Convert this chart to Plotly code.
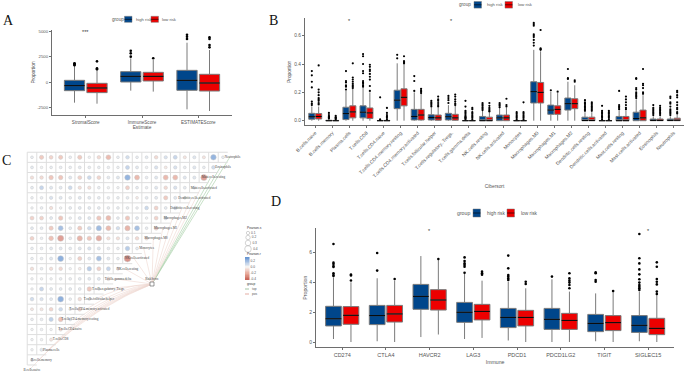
import numpy as np
import plotly.graph_objects as go

W, H = 685, 373
BLUE, RED = "#00468B", "#ED0000"
TXT = "#555555"
SANS, SERIF = "Liberation Sans", "Liberation Serif"

# ---------- Panel A ----------
a_cats = ["StromalScore", "ImmuneScore", "ESTIMATEScore"]
a_high_q1 = [-855, 0, -820]
a_high_med = [-360, 560, 165]
a_high_q3 = [165, 1020, 1150]
a_high_lo = [-2040, -855, -2700]
a_high_hi = [1580, 2340, 3880]
a_high_out = [[1650, 1750, 1800, 1850], [2500, 2830, 3090], [4240, 4470, 4670]]
a_low_q1 = [-1050, 100, -890]
a_low_med = [-590, 560, -100]
a_low_q3 = [-130, 955, 760]
a_low_lo = [-2140, -950, -2860]
a_low_hi = [1120, 2170, 3160]
a_low_out = [[1250, 1350, 2040], [2340], [3420, 3650, 4240, 4410]]
a_ticks = [-2500, 0, 2500, 5000]

# ---------- Panel B ----------
b_cats = ["B.cells.naive", "B.cells.memory", "Plasma.cells", "T.cells.CD8", "T.cells.CD4.naive",
          "T.cells.CD4.memory.resting", "T.cells.CD4.memory.activated", "T.cells.follicular.helper",
          "T.cells.regulatory..Tregs.", "T.cells.gamma.delta", "NK.cells.resting", "NK.cells.activated",
          "Monocytes", "Macrophages.M0", "Macrophages.M1", "Macrophages.M2", "Dendritic.cells.resting",
          "Dendritic.cells.activated", "Mast.cells.resting", "Mast.cells.activated", "Eosinophils", "Neutrophils"]
b_high_q1 = [.01, 0, .008, .02, 0, .085, .005, .005, .005, 0, 0, 0, 0, .125, .045, .075, 0, 0, 0, 0, 0, 0]
b_high_med = [.028, 0, .05, .06, 0, .145, .03, .022, .028, 0, 0, .02, 0, .205, .075, .12, .001, 0, 0, .015, .002, .002]
b_high_q3 = [.052, .003, .095, .105, .001, .215, .08, .042, .052, .001, .03, .04, .001, .275, .11, .16, .025, .001, .03, .06, .012, .012]
b_high_lo = [0] * 22
b_high_hi = [.1, .008, .21, .235, .002, .405, .2, .09, .11, .002, .07, .09, .002, .5, .205, .275, .06, .002, .07, .15, .03, .03]
b_high_out = [[.35, .32, .275, .235, .135, .12, .11], [.055, .04, .03, .025, .02, .015],
              [.35, .28, .27, .25, .24, .22], [.47, .455, .4, .35, .335, .28, .27, .26, .25, .24],
              [.165, .01, .005], [.465, .44], [.315, .28, .21], [.14, .13, .12, .11, .1],
              [.175, .16, .145, .125], [.14, .1, .07, .06, .05, .04, .03, .025, .02, .015, .01],
              [.125, .115, .105, .095, .085, .075], [.125, .115, .105, .095], [.06, .05, .04, .03, .02, .01],
              [.69, .68, .67, .61, .6, .59, .57, .55, .53], [.215], [.365, .3, .295],
              [.145, .13, .12, .11, .1, .09, .08, .07], [.105, .07, .06, .05, .04, .03, .02, .01],
              [.21, .11, .1, .09, .08], [.3, .295, .23, .22, .2, .19, .18, .17, .16],
              [.11, .09, .08, .07, .06, .05, .04], [.17, .16, .13, .12, .1, .08, .07, .06, .05, .04]]
b_low_q1 = [.012, 0, .02, .015, 0, .105, .005, .003, .003, 0, 0, 0, 0, .125, .045, .085, 0, 0, 0, 0, 0, 0]
b_low_med = [.03, 0, .062, .055, 0, .165, .04, .02, .02, 0, 0, .02, 0, .2, .08, .12, .001, 0, 0, .02, .002, .003]
b_low_q3 = [.05, .002, .105, .09, .002, .225, .08, .04, .045, .001, .025, .04, .001, .27, .105, .155, .025, .001, .03, .075, .012, .018]
b_low_lo = [0] * 22
b_low_hi = [.1, .006, .225, .2, .004, .4, .19, .09, .105, .002, .06, .09, .002, .49, .195, .25, .06, .002, .07, .18, .03, .04]
b_low_out = [[.39, .22, .2, .18, .16, .15, .14, .125, .115], [.035, .025, .02, .015, .01],
             [.405, .305, .29, .275, .26, .25, .24, .23], [.395, .38, .36, .35, .33, .31, .29, .245, .21],
             [.09, .055, .04, .03, .02, .01], [.455, .42, .41, .405], [.225, .215, .205, .195],
             [.17, .15, .14, .125, .11, .1], [.185, .17, .15, .135, .12, .11],
             [.09, .08, .06, .05, .04, .03, .02, .01], [.125, .105, .09, .08, .07, .065], [.155, .11, .1],
             [.13, .06, .05, .04, .03, .02, .01], [.64, .51, .505, .5], [.205], [.285, .275],
             [.13, .12, .11, .1, .09, .08, .07], [.07, .06, .05, .04, .03, .02, .01],
             [.17, .15, .13, .11, .09, .08], [.365, .26, .25, .23, .2, .19],
             [.105, .09, .08, .07, .06, .05, .04], [.21, .2, .18, .165, .13, .11, .09, .08, .06, .05]]
b_ticks = [0, .2, .4, .6]
b_tick_labels = ["0.0", "0.2", "0.4", "0.6"]
b_star_cats = [3, 9]

# ---------- Panel D ----------
d_cats = ["CD274", "CTLA4", "HAVCR2", "LAG3", "PDCD1", "PDCD1LG2", "TIGIT", "SIGLEC15"]
d_high_q1 = [1.07, 1.16, 2.18, 1.31, .96, .84, .69, .64]
d_high_med = [1.55, 1.76, 3.04, 1.98, 1.64, 1.51, 1.24, 1.11]
d_high_q3 = [2.38, 2.44, 3.84, 2.64, 2.24, 2.24, 1.84, 1.76]
d_high_lo = [.2, .05, .33, .2, .1, 0, .05, .05]
d_high_hi = [4.3, 4.25, 5.73, 4.58, 4.02, 4.18, 3.24, 3.36]
d_high_out = [[6.53, 5.29, 5.2, 5.07, 5.0, 4.58, 4.47, 4.4], [5.93, 4.76], [],
              [5.64, 5.4, 5.24, 5.13, 5.02, 4.62], [5.76, 4.91, 4.47, 4.36, 4.24, 4.13], [4.36],
              [4.64, 4.58, 4.13, 4.02], [7.2, 5.58, 5.24, 4.84, 4.51, 4.18, 3.96, 3.8, 3.69, 3.58, 3.47]]
d_low_q1 = [1.18, 1.33, 2.13, 1.47, 1.07, .84, .76, .49]
d_low_med = [1.78, 1.87, 2.8, 2.04, 1.64, 1.44, 1.29, .91]
d_low_q3 = [2.36, 2.44, 3.49, 2.51, 2.11, 1.91, 1.76, 1.58]
d_low_lo = [0, 0, .5, .27, 0, 0, 0, 0]
d_low_hi = [3.98, 4.1, 5.47, 4.09, 3.58, 3.36, 3.36, 3.13]
d_low_out = [[4.5, 4.44, 4.1], [4.2], [5.53], [4.69, 4.58, 4.49], [4.02, 3.87],
             [4.58, 4.24, 4.09, 3.96, 3.8, 3.58], [3.4], [5.31, 5.02, 4.2, 4.02, 3.84, 3.36, 3.2]]
d_ticks = [0, 2, 4, 6]
d_star_cats = [3, 8]

# ---------- Panel C ----------
c_labels = ["Neutrophils", "Eosinophils", "Mast.cells.resting", "Mast.cells.activated",
            "Dendritic.cells.activated", "Dendritic.cells.resting", "Macrophages.M2", "Macrophages.M1",
            "Macrophages.M0", "Monocytes", "NK.cells.activated", "NK.cells.resting", "T.cells.gamma.delta",
            "T.cells.regulatory..Tregs.", "T.cells.follicular.helper", "T.cells.CD4.memory.activated",
            "T.cells.CD4.memory.resting", "T.cells.CD4.naive", "T.cells.CD8", "Plasma.cells",
            "B.cells.memory", "B.cells.naive"]
c_r = [
    [.05, -.18, -.14, -.18, .05, -.18, .03, -.12, -.24, .05, .12, .05, .06, -.12, .1, .15, -.08, .08, -.08, .3, .05],
    [.06, .03, .05, .05, .05, .06, .05, .05, .04, .04, .16, .07, .03, .1, -.06, .1, .05, .08, .05, .13],
    [-.1, -.12, -.2, -.2, .08, -.15, .14, -.14, .06, .08, .3, -.25, .05, .08, -.25, -.25, .08, .08, -.35],
    [.06, .16, .08, .07, .14, -.1, -.1, .05, .03, .03, -.16, .06, .04, .08, -.12, .1, .06, .06],
    [.04, .05, .1, .08, .05, .08, .07, .06, .05, .05, .06, -.05, .06, .07, -.18, .08, .06],
    [.03, .05, -.1, .03, .06, .07, .07, .06, .05, .05, .05, .04, .14, -.15, .06, .12],
    [-.15, -.15, .07, -.2, .04, .08, .08, -.2, -.25, .06, -.2, .07, .03, -.15, .12],
    [.06, .06, -.18, .25, .06, -.18, .13, .27, -.25, .12, -.27, .25, .05, -.16],
    [-.15, .04, -.22, -.35, .06, -.27, -.2, -.3, -.1, -.1, .08, -.12, -.12],
    [.05, .05, .07, .07, .06, .08, .1, .08, .05, .05, .2, .06],
    [.05, .05, .08, .33, .03, -.16, .07, .25, .07, .05, -.4],
    [-.1, .05, -.1, -.13, .03, -.05, .2, -.16, .16, -.08],
    [.03, .03, .03, .05, .05, .06, .07, .08, -.12],
    [.03, .16, .06, .06, .06, .06, -.2, .05],
    [.13, .1, .07, .33, .05, -.12, .05],
    [-.07, -.08, -.14, .14, .04, -.15],
    [.05, .05, .18, -.22, .08],
    [.03, .04, .03, -.1],
    [.03, .03, -.08],
    [.03, .08],
    [.08],
]
c_link_top = [1, 1, 1, 0, 0, 0, 0, 0, 0, 0, 0, 0, 0, 0, 0, 0, 0, 0, 0, 0, 0, 0]
c_legend_sizes = [.1, .2, .3, .4]
c_legend_labels = ["0.1", "0.2", "0.3", "0.4"]
c_bar_ticks = [.2, 0, -.2, -.4]
c_bar_labels = ["0.2", "0.0", "-0.2", "-0.4"]

C_SCALE = [[0, "#c2564a"], [.29, "#e8a898"], [.58, "#f7f5f3"], [.8, "#a9c2e3"], [1, "#5f8fcf"]]
C_MIN, C_MAX = -.44, .32


def xdom(a, b):
    return [a / W, b / W]


def ydom(top, bot):
    return [1 - bot / H, 1 - top / H]


fig = go.Figure()
GREY = "#7a7a7a"


def boxes(xa, ya, cats, q1, med, q3, lo, hi, out, color, off, msize=2.6):
    xs = [i + 1 + off for i in range(len(cats))]
    fig.add_trace(go.Box(x=xs, q1=q1, median=med, q3=q3, lowerfence=lo, upperfence=hi,
                         width=.36, boxpoints=False, whiskerwidth=0, fillcolor=color,
                         line=dict(color=GREY, width=1), xaxis=xa, yaxis=ya, showlegend=False,
                         hoverinfo="skip"))
    mx, my = [], []
    for x, m in zip(xs, med):
        mx += [x - .18, x + .18, None]
        my += [m, m, None]
    fig.add_trace(go.Scatter(x=mx, y=my, mode="lines", line=dict(color="black", width=1),
                             xaxis=xa, yaxis=ya, showlegend=False, hoverinfo="skip"))
    ox, oy = [], []
    for x, o in zip(xs, out):
        ox += [x] * len(o)
        oy += list(o)
    fig.add_trace(go.Scatter(x=ox, y=oy, mode="markers", marker=dict(color="black", size=msize),
                             xaxis=xa, yaxis=ya, showlegend=False, hoverinfo="skip"))


boxes("x", "y", a_cats, a_high_q1, a_high_med, a_high_q3, a_high_lo, a_high_hi, a_high_out, BLUE, -.2)
boxes("x", "y", a_cats, a_low_q1, a_low_med, a_low_q3, a_low_lo, a_low_hi, a_low_out, RED, .2)
boxes("x2", "y2", b_cats, b_high_q1, b_high_med, b_high_q3, b_high_lo, b_high_hi, b_high_out, BLUE, -.2, 2.2)
boxes("x2", "y2", b_cats, b_low_q1, b_low_med, b_low_q3, b_low_lo, b_low_hi, b_low_out, RED, .2, 2.2)
boxes("x4", "y4", d_cats, d_high_q1, d_high_med, d_high_q3, d_high_lo, d_high_hi, d_high_out, BLUE, -.2)
boxes("x4", "y4", d_cats, d_low_q1, d_low_med, d_low_q3, d_low_lo, d_low_hi, d_low_out, RED, .2)


def axis_common(size):
    return dict(showgrid=False, zeroline=False, showline=True, linecolor="#6e6e6e", linewidth=1,
                ticks="outside", ticklen=2, tickwidth=.7, tickcolor="#6e6e6e",
                tickfont=dict(family=SANS, size=size, color=TXT))


def title(text, size, standoff):
    return dict(text=text, standoff=standoff, font=dict(family=SANS, size=size, color=TXT))


layout = dict(
    width=W, height=H, margin=dict(l=0, r=0, t=0, b=0, pad=0, autoexpand=False), autosize=False,
    paper_bgcolor="white", plot_bgcolor="white", showlegend=False,
    xaxis=dict(domain=xdom(52, 232), range=[.4, 3.6], tickmode="array", tickvals=[1, 2, 3], ticktext=a_cats,
               anchor="y", title=title("Estimate", 4.8, 1), **axis_common(4.6)),
    yaxis=dict(domain=ydom(30, 115), range=[(82 - 115) / .01013, (82 - 30) / .01013], tickmode="array",
               tickvals=a_ticks, ticktext=[str(t) for t in a_ticks], anchor="x",
               title=title("Proportion", 4.8, 1), **axis_common(4.3)),
    xaxis2=dict(domain=xdom(305, 684), range=[.4, 22.6], tickmode="array", tickvals=list(range(1, 23)),
                ticktext=b_cats, tickangle=-45, anchor="y2", title=title("Cibersort", 4.8, 6), **axis_common(4.8)),
    yaxis2=dict(domain=ydom(18.3, 125.3), range=[(120.7 - 125.3) / 141.7, (120.7 - 18.3) / 141.7], tickmode="array",
                tickvals=b_ticks, ticktext=b_tick_labels, anchor="x2",
                title=title("Proportion", 4.8, 2), **axis_common(4.8)),
    xaxis4=dict(domain=xdom(316, 674.3), range=[.4, 8.6], tickmode="array", tickvals=list(range(1, 9)),
                ticktext=d_cats, anchor="y4", title=title("Immune", 5.2, 3), **axis_common(5.5)),
    yaxis4=dict(domain=ydom(228.3, 347), range=[(342 - 347) / 15, (342 - 228.3) / 15], tickmode="array",
                tickvals=d_ticks, ticktext=[str(t) for t in d_ticks], anchor="x4",
                title=title("Proportion", 5.2, 1), **axis_common(5)),
)

# ---------- Panel C drawing ----------
def col_of(px):
    return 1 + (px - 32) / 9.55


def row_of(py):
    return 1 + (py - 157.3) / 10.13


n = len(c_r)
hub = (col_of(152), row_of(284))
# links
for r, (lab, top) in enumerate(zip(c_labels, c_link_top), start=1):
    ex, ey = 22 - r + .7, r
    dx, dy = ex - hub[0], ey - hub[1]
    k = .11 if dy > .5 else 0
    cx, cy = (hub[0] + ex) / 2 - dy * k, (hub[1] + ey) / 2 + dx * k
    t = np.linspace(0, 1, 25)
    xs = (1 - t) ** 2 * hub[0] + 2 * t * (1 - t) * cx + t ** 2 * ex
    ys = (1 - t) ** 2 * hub[1] + 2 * t * (1 - t) * cy + t ** 2 * ey
    fig.add_trace(go.Scatter(x=xs, y=ys, mode="lines", xaxis="x3", yaxis="y3", showlegend=False, hoverinfo="skip",
                             line=dict(color="#a3cda3" if top else "#efd6d0", width=.6)))
# grid
gx, gy = [], []
for r in range(1, n + 2):
    width_cells = 21 if r == 1 else 23 - r
    gx += [.5, width_cells + .5, None]
    gy += [r - .5, r - .5, None]
for c in range(0, 22):
    gx += [c + .5, c + .5, None]
    gy += [.5, (22 - c) - .5 if c > 0 else 21.5, None]
fig.add_trace(go.Scatter(x=gx, y=gy, mode="lines", line=dict(color="#dedede", width=1), xaxis="x3", yaxis="y3",
                         showlegend=False, hoverinfo="skip"))
# circles
cx, cy, cv = [], [], []
for r, row in enumerate(c_r, start=1):
    for c, v in enumerate(row, start=1):
        cx.append(c)
        cy.append(r)
        cv.append(v)
cv = np.array(cv)
fig.add_trace(go.Scatter(
    x=cx, y=cy, mode="markers", xaxis="x3", yaxis="y3", showlegend=False, hoverinfo="skip",
    marker=dict(size=2.2 + np.abs(cv) * 11, color=cv, cmin=C_MIN, cmax=C_MAX, colorscale=C_SCALE, showscale=False,
                line=dict(color="#b5b5b5", width=.5))))
# labels
lx = [23 - r for r in range(1, 23)]
ly = list(range(1, 23))
fig.add_trace(go.Scatter(x=lx, y=ly, mode="text", text=c_labels, textposition="middle center", xaxis="x3", yaxis="y3",
                         textfont=dict(family=SERIF, size=3.3, color="#444"), showlegend=False, hoverinfo="skip",
                         cliponaxis=False))
# hub
fig.add_trace(go.Scatter(x=[hub[0]], y=[hub[1]], mode="markers+text", text=["RiskScore"], textposition="top center",
                         marker=dict(symbol="square", size=4, color="white", line=dict(color="#555", width=.6)),
                         textfont=dict(family=SERIF, size=3.3, color="#444"), xaxis="x3", yaxis="y3",
                         showlegend=False, hoverinfo="skip"))
# size legend
lsx = [col_of(248)] * 4
lsy = [row_of(p) for p in (233, 237.5, 243, 249)]
lv = np.array(c_legend_sizes)
fig.add_trace(go.Scatter(x=lsx, y=lsy, mode="markers+text", text=c_legend_labels, textposition="middle right",
                         marker=dict(size=2.2 + lv * 11, color="white", line=dict(color="#888", width=.5)),
                         textfont=dict(family=SANS, size=3.2, color=TXT), xaxis="x3", yaxis="y3",
                         showlegend=False, hoverinfo="skip"))
fig.add_trace(go.Scatter(x=[col_of(245), col_of(249)], y=[row_of(289), row_of(289)], mode="lines",
                         line=dict(color="#7fae7f", width=.7), xaxis="x3", yaxis="y3", showlegend=False,
                         hoverinfo="skip"))
fig.add_trace(go.Scatter(x=[col_of(245), col_of(249)], y=[row_of(294), row_of(294)], mode="lines",
                         line=dict(color="#d98a7c", width=.7), xaxis="x3", yaxis="y3", showlegend=False,
                         hoverinfo="skip"))
# gradient bar of the colour legend
bar = np.linspace(C_MIN, C_MAX, 40)
fig.add_trace(go.Heatmap(x=[0], y=bar, z=[[v] for v in bar], zmin=C_MIN, zmax=C_MAX, colorscale=C_SCALE,
                         showscale=False, xaxis="x5", yaxis="y5", hoverinfo="skip"))

layout["xaxis3"] = dict(domain=xdom(0, 265), range=[col_of(0), col_of(265)], visible=False, anchor="y3")
layout["yaxis3"] = dict(domain=ydom(150, 373), range=[row_of(373), row_of(150)], visible=False, anchor="x3")
layout["xaxis5"] = dict(domain=xdom(245, 249.5), visible=False, anchor="y5")
layout["yaxis5"] = dict(domain=ydom(257, 280), range=[C_MIN, C_MAX], side="right", anchor="x5", showgrid=False,
                        zeroline=False, ticks="", showline=False, tickmode="array", tickvals=c_bar_ticks,
                        ticktext=c_bar_labels, tickfont=dict(family=SANS, size=3.2, color=TXT))

ann, shp = [], []


def txt(x, y, s, size=5, family=SANS, color=TXT, anchor="left"):
    ann.append(dict(x=x / W, y=1 - y / H, xref="paper", yref="paper", text=s, showarrow=False, xanchor=anchor,
                    yanchor="middle", font=dict(family=family, size=size, color=color)))


def rect(x0, x1, y0, y1, color):
    shp.append(dict(type="rect", xref="paper", yref="paper", x0=x0 / W, x1=x1 / W, y0=1 - y0 / H, y1=1 - y1 / H,
                    fillcolor=color, line=dict(color=GREY, width=.5)))
    shp.append(dict(type="line", xref="paper", yref="paper", x0=x0 / W, x1=x1 / W, y0=1 - (y0 + y1) / 2 / H,
                    y1=1 - (y0 + y1) / 2 / H, line=dict(color="black", width=.6)))


# panel letters
for s, x, y in (("A", 1, 20.5), ("B", 267, 20.5), ("C", 0, 160), ("D", 269, 201)):
    txt(x, y, s, size=14, family=SERIF, color="#111")
# legends
for gx0, k1, h, k2, l, yc, kh, fs in ((110, 124.5, 134, 151, 160, 19.3, 3, 4.2),
                                      (457, 474, 485, 505, 516, 4.8, 3.3, 4.2),
                                      (455, 473, 485, 507, 519, 213, 4, 4.8)):
    txt(gx0, yc, "group", size=fs + .4)
    rect(k1, k1 + 7.5, yc - kh, yc + kh, BLUE)
    txt(h, yc, "high risk", size=fs)
    rect(k2, k2 + 7.5, yc - kh, yc + kh, RED)
    txt(l, yc, "low risk", size=fs)
# C legend text
txt(244.5, 227.5, "Pearson.s", size=3.2, color="#333")
txt(244.5, 254, "Pearson.r", size=3.2, color="#333")
txt(244.5, 284, "group", size=3.2, color="#333")
txt(250, 289, "top", size=3.2)
txt(250, 294, "pos", size=3.2)
# significance
ann.append(dict(x=1, y=4930, xref="x", yref="y", text="***", showarrow=False, font=dict(family=SANS, size=5.5, color="#333")))
for c in b_star_cats:
    ann.append(dict(x=c, y=.705, xref="x2", yref="y2", text="*", showarrow=False, font=dict(family=SANS, size=5.5, color="#333")))
for c in d_star_cats:
    ann.append(dict(x=c, y=7.4, xref="x4", yref="y4", text="*", showarrow=False, font=dict(family=SANS, size=5.5, color="#333")))

fig.update_layout(annotations=ann, shapes=shp, **layout)
fig.write_html("out.html", config=dict(displayModeBar=False),
               post_script="document.body.style.margin='0';document.documentElement.style.overflow='hidden';")
